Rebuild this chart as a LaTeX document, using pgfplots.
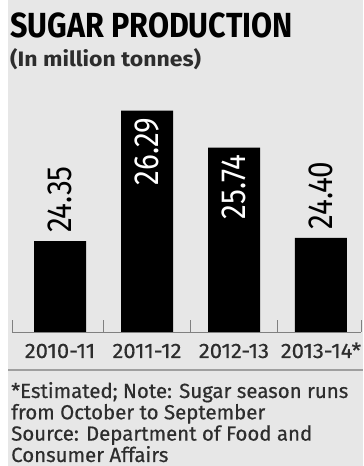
\documentclass[border=0pt]{standalone}
\usepackage{pgfplots}
\pgfplotsset{compat=1.18}
\usepackage{fontspec}
\setmainfont{Fira Sans}
\newfontfamily\titlefont[FakeStretch=0.875]{Fira Sans}
\newfontfamily\subfont[FakeStretch=1.1]{Fira Sans}
\newfontfamily\valfont[FakeStretch=0.85]{Fira Sans}
\newfontfamily\labfont[FakeStretch=1.05, FakeBold=0.4]{Fira Sans}
\newfontfamily\notefont[FakeBold=0.5]{Fira Sans}
\definecolor{bg}{RGB}{231,231,231}
\definecolor{txt}{RGB}{45,45,45}
\begin{document}
\begin{tikzpicture}[x=1bp,y=1bp]
\useasboundingbox (0,0) rectangle (363,466);
\fill[white] (0,0) rectangle (363,466);
\fill[bg] (8,0) rectangle (363,466);
\node[anchor=base west, inner sep=0] at (10,428) {\titlefont\bfseries\fontsize{35}{35}\selectfont SUGAR PRODUCTION};
\node[anchor=base west, inner sep=0, text=txt] at (10,399) {\subfont\bfseries\fontsize{21}{21}\selectfont (In million tonnes)};
\begin{axis}[
  at={(12bp,134bp)}, anchor=south west,
  scale only axis, width=349bp, height=232bp,
  xmin=-0.552, xmax=3.46, ymin=23, ymax=26.447,
  axis x line*=bottom, axis y line=none,
  axis line style={gray, line width=0.8bp, -},
  xtick={0,1,2,3},
  xticklabels={2010-11,2011-12,2012-13,2013-14*},
  major tick length=0pt,
  xticklabel style={font=\labfont\fontsize{21}{21}\selectfont, text=txt, anchor=base, yshift=-26bp},
  extra x ticks={-0.552,0.5,1.5,2.5,3.46},
  extra x tick labels={},
  extra x tick style={major tick length=12bp, tick align=inside, tick style={gray, line width=0.8bp}},
  clip=false,
]
\addplot[ybar, bar width=52bp, bar shift=0pt, fill=black, draw=none,
  nodes near coords={\valfont\fontsize{35}{35}\selectfont\pgfmathprintnumber[fixed,fixed zerofill,precision=2,assume math mode=true]{\pgfplotspointmeta}},
  nodes near coords style={rotate=90, anchor=west, inner xsep=8bp, inner ysep=0pt, text=black}]
  coordinates {(0,24.35) (3,24.40)};
\addplot[ybar, bar width=52bp, bar shift=0pt, fill=black, draw=none,
  nodes near coords={\valfont\fontsize{35}{35}\selectfont\pgfmathprintnumber[fixed,fixed zerofill,precision=2,assume math mode=true]{\pgfplotspointmeta}},
  nodes near coords style={rotate=90, anchor=east, inner xsep=7bp, inner ysep=0pt, text=white}]
  coordinates {(1,26.29) (2,25.74)};
\end{axis}
\draw[gray!75, line width=1.5bp] (8,96) -- (363,96);
\begin{scope}[every node/.style={anchor=base west, inner sep=0, text=txt, font=\notefont\fontsize{20.5}{22}\selectfont}]
\node at (11,68) {*Estimated; Note: Sugar season runs};
\node at (11,46.7) {from October to September};
\node at (11,25.4) {Source: Department of Food and};
\node at (11,4) {Consumer Affairs};
\end{scope}
\end{tikzpicture}
\end{document}
